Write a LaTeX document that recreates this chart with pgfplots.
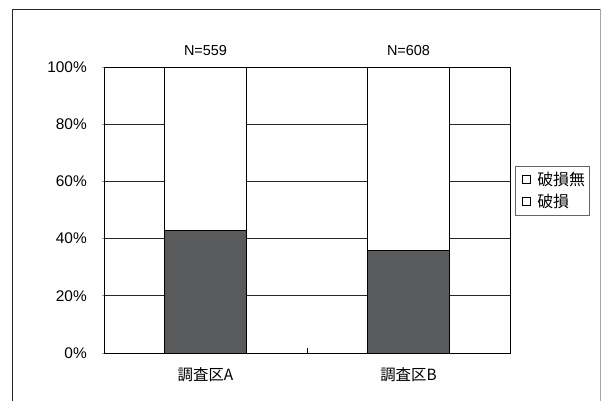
\documentclass[border=0pt]{standalone}
\usepackage{fontspec}
\usepackage{pgfplots}
\pgfplotsset{compat=1.18}
\setmainfont{Liberation Sans}
\newfontfamily\jp{Noto Sans CJK JP}
\definecolor{damaged}{HTML}{595A5C}

\begin{document}
\begin{tikzpicture}
\path[use as bounding box] (0,0) rectangle (602bp,401bp);
% chart area frame
\draw[black!85, line width=0.8bp] (12bp,-5bp) -- (12bp,392bp) -- (600.5bp,392bp);
\draw[black!35, line width=0.8bp] (600.5bp,392bp) -- (600.5bp,-5bp);
\begin{axis}[
  at={(104bp,48bp)}, anchor=south west,
  scale only axis, width=406bp, height=286bp,
  clip=false,
  ybar stacked, bar width=82bp,
  xmin=-0.5, xmax=1.5, ymin=0, ymax=100,
  axis line style={black, line width=0.8bp},
  xtick={0,1},
  xticklabels={{\jp 調査区A},{\jp 調査区B}},
  xtick pos=bottom, ytick pos=left,
  major x tick style={draw=none},
  extra x ticks={0.5}, extra x tick labels={},
  extra x tick style={tick align=inside, major tick length=5bp, major x tick style={draw=black, line width=0.6bp}},
  ytick={0,20,40,60,80,100},
  yticklabels={0\%,20\%,40\%,60\%,80\%,100\%},
  tick align=outside, major tick length=2bp,
  major y tick style={black!40, line width=0.6bp},
  ymajorgrids, grid style={black!85, line width=0.6bp},
  ticklabel style={font=\fontsize{15.5}{18}\selectfont, inner sep=0pt},
  yticklabel style={anchor=east, xshift=-15bp},
  xticklabel style={anchor=north, yshift=-12bp},
  legend style={at={(1.0123,0.6538)}, anchor=north west,
    draw=black!60, line width=0.6bp,
    inner xsep=2bp, inner ysep=4bp, row sep=3bp,
    legend cell align=left,
    nodes={font=\fontsize{16}{19}\selectfont\jp, inner sep=2bp}},
  legend image code/.code={
    \path[draw=none, fill=none] (0bp,0bp) -- (18bp,0bp);
    \draw[black, line width=0.6bp, fill=white] (5bp,-4bp) rectangle (13bp,4bp);},
  reverse legend,
]
\addplot[fill=damaged, draw=black, line width=0.8bp] coordinates {(0,42.7) (1,35.8)};
\addlegendentry{破損}
\addplot[fill=white, draw=black, line width=0.8bp] coordinates {(0,57.3) (1,64.2)};
\addlegendentry{破損無}
\node[anchor=base, font=\fontsize{14.5}{17}\selectfont] at (axis cs:0,100) [yshift=11bp] {N=559};
\node[anchor=base, font=\fontsize{14.5}{17}\selectfont] at (axis cs:1,100) [yshift=11bp] {N=608};
\end{axis}
\end{tikzpicture}
\end{document}
